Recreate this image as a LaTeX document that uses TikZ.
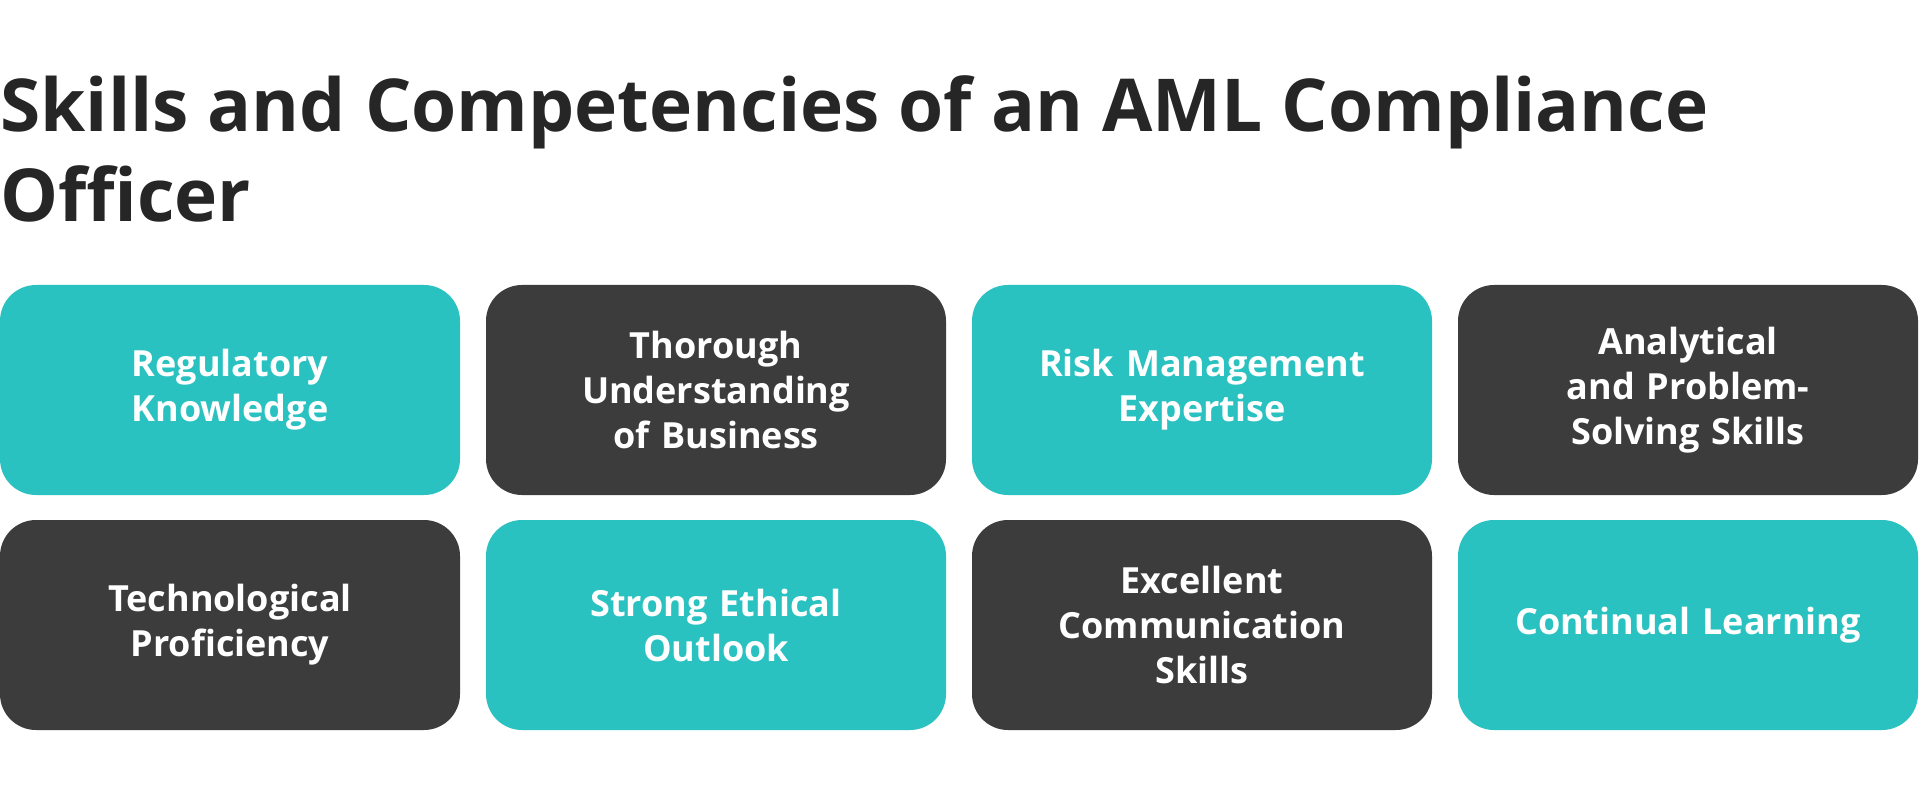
\documentclass[tikz,border=0pt]{standalone}
\usepackage{fontspec}
\setmainfont{Open Sans}
\definecolor{teal1}{HTML}{2AC1C1}
\definecolor{dark1}{HTML}{3C3C3C}
\definecolor{ttl}{HTML}{262626}
\begin{document}
\begin{tikzpicture}[x=0.5pt,y=-0.5pt,
 box/.style={rounded corners=18pt,minimum width=230pt,minimum height=105pt,inner sep=0pt,
  text width=200pt,align=center,text=white,font=\fontsize{18}{22.5}\selectfont\bfseries},
 tbox/.style={box,fill=teal1},
 dbox/.style={box,fill=dark1}]
\useasboundingbox (0,0) rectangle (1920,812);
\node[anchor=base west,text=ttl,font=\fontsize{36.5}{44}\selectfont\bfseries,inner sep=0pt] (t1) at (0,132) {Skills and Competencies of an AML Compliance};
\node[anchor=base west,text=ttl,font=\fontsize{36.5}{44}\selectfont\bfseries,inner sep=0pt] (t2) at (0,222) {Officer};
\node[tbox] (b1) at (230,390) {Regulatory\\Knowledge};
\node[dbox] (b2) at (716,390) {Thorough\\Understanding\\of Business};
\node[tbox] (b3) at (1202,390) {Risk Management\\Expertise};
\node[dbox] (b4) at (1688,390) {Analytical\\and Problem-\\Solving Skills};
\node[dbox] (b5) at (230,625) {Technological\\Proficiency};
\node[tbox] (b6) at (716,625) {Strong Ethical\\Outlook};
\node[dbox] (b7) at (1202,625) {Excellent\\Communication\\Skills};
\node[tbox] (b8) at (1688,625) {Continual Learning};
\end{tikzpicture}
\end{document}
